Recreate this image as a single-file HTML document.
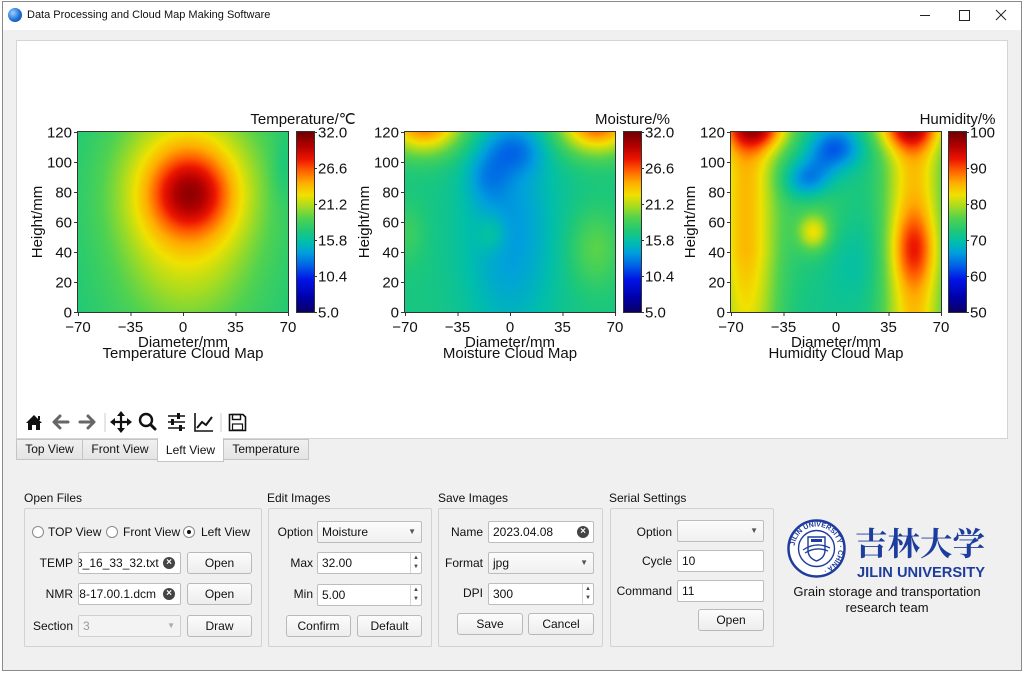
<!DOCTYPE html>
<html><head><meta charset="utf-8">
<style>
*{margin:0;padding:0;box-sizing:border-box}
body{width:1024px;height:673px;background:#fff;position:relative;overflow:hidden;font-family:"Liberation Sans","Noto Sans CJK SC",sans-serif;font-size:12px;color:#111}
.a{position:absolute}
.gb{position:absolute;border:1px solid #d2d2d2;border-radius:2px;top:508px;height:139px}
.t{position:absolute;white-space:nowrap;font-size:12px;line-height:14px}
.r{text-align:right}
.inp{position:absolute;background:#fff;border:1px solid #bdbdbd;border-radius:2px;height:22px;line-height:20px;padding-left:4px;font-size:12px;overflow:hidden;white-space:nowrap}
.btn{position:absolute;background:linear-gradient(#fcfcfc,#ededed);border:1px solid #b9b9b9;border-radius:3px;height:22px;line-height:20px;text-align:center;font-size:12px}
.arr{position:absolute;right:5px;top:0;font-size:8px;color:#555;line-height:20px}
.spin{position:absolute;right:0;top:0;width:11px;height:20px;border-left:1px solid #d6d6d6;font-size:6px;color:#444;line-height:9px;text-align:center;padding-top:1px}
.clr{position:absolute;top:4px;width:12px;height:12px;border-radius:6px;background:#444;color:#fff;font-size:10px;line-height:12px;text-align:center;font-weight:bold}
.rad{position:absolute;width:12px;height:12px;border-radius:6px;border:1px solid #8a8a8a;background:#fff;top:526px}
.tab{position:absolute;top:439px;height:21px;background:linear-gradient(#f0f0f0,#e4e4e4);border:1px solid #c4c4c4;font-size:12px;line-height:19px;text-align:center}
canvas{position:absolute;background:#2cc487}
.cb{position:absolute;top:132px;height:180px;width:17px;background:linear-gradient(to top,rgb(10,0,100) 0%,rgb(0,0,170) 8%,rgb(0,20,230) 18%,rgb(0,100,230) 26%,rgb(0,160,220) 33%,rgb(0,190,170) 39%,rgb(30,200,120) 45%,rgb(80,210,80) 52%,rgb(170,220,30) 59%,rgb(240,225,0) 65%,rgb(255,170,0) 72%,rgb(255,90,0) 79%,rgb(235,20,0) 85%,rgb(180,0,0) 92%,rgb(110,0,0) 100%)}
</style></head><body>
<div class="a" style="left:2px;top:1px;width:1020px;height:670px;border:1px solid #8a8a8a;background:#f0f0f0"></div>
<div class="a" style="left:3px;top:2px;width:1018px;height:28px;background:#fff"></div>
<div class="a" style="left:8px;top:8px;width:14px;height:14px;border-radius:7px;background:radial-gradient(circle at 35% 35%,#9fd0ff,#1f6fd6 55%,#0b3f9a)"></div>
<div class="t" style="left:27px;top:8px;font-size:11px">Data Processing and Cloud Map Making Software</div>
<div class="a" style="left:16px;top:40px;width:992px;height:399px;background:#fff;border:1px solid #d4d4d4"></div>

<canvas id="c1" width="210" height="180" style="left:78px;top:132px;width:210px;height:180px"></canvas>
<canvas id="c2" width="210" height="180" style="left:405px;top:132px;width:210px;height:180px"></canvas>
<canvas id="c3" width="210" height="180" style="left:731px;top:132px;width:210px;height:180px"></canvas>
<div class="cb" style="left:297px"></div>
<div class="cb" style="left:624px"></div>
<div class="cb" style="left:949px"></div>

<div class="tab" style="left:16px;width:67px">Top View</div>
<div class="tab" style="left:82px;width:76px">Front View</div>
<div class="tab" style="left:223px;width:86px">Temperature</div>
<div class="tab" style="left:157px;width:67px;top:438px;height:24px;background:#fff;border-top:none;line-height:25px">Left View</div>

<div class="t" style="left:24px;top:491px">Open Files</div>
<div class="t" style="left:267px;top:491px">Edit Images</div>
<div class="t" style="left:438px;top:491px">Save Images</div>
<div class="t" style="left:609px;top:491px">Serial Settings</div>
<div class="gb" style="left:24px;width:238px"></div>
<div class="gb" style="left:268px;width:164px"></div>
<div class="gb" style="left:438px;width:165px"></div>
<div class="gb" style="left:610px;width:164px"></div>

<div class="rad" style="left:32px"></div>
<div class="t" style="left:48px;top:525px">TOP View</div>
<div class="rad" style="left:106px"></div>
<div class="t" style="left:123px;top:525px">Front View</div>
<div class="rad" style="left:183px"><div class="a" style="left:3px;top:3px;width:4px;height:4px;border-radius:2px;background:#111"></div></div>
<div class="t" style="left:201px;top:525px">Left View</div>

<div class="t r" style="left:30px;width:43px;top:556px">TEMP</div>
<div class="inp" style="left:78px;top:552px;width:103px;padding-left:0"><span style="margin-left:-3px">8_16_33_32.txt</span><div class="clr" style="left:84px">×</div></div>
<div class="btn" style="left:187px;top:552px;width:65px">Open</div>
<div class="t r" style="left:30px;width:43px;top:587px">NMR</div>
<div class="inp" style="left:78px;top:583px;width:103px;padding-left:0"><span style="margin-left:-2px">'8-17.00.1.dcm</span><div class="clr" style="left:84px">×</div></div>
<div class="btn" style="left:187px;top:583px;width:65px">Open</div>
<div class="t r" style="left:30px;width:43px;top:619px">Section</div>
<div class="inp" style="left:78px;top:615px;width:103px;background:#f3f3f3;border-color:#d0d0d0;color:#9a9a9a">3<span class="arr" style="color:#aaa">▼</span></div>
<div class="btn" style="left:187px;top:615px;width:65px">Draw</div>

<div class="t r" style="left:268px;width:45px;top:525px">Option</div>
<div class="inp" style="left:317px;top:521px;width:105px;background:linear-gradient(#fcfcfc,#f0f0f0)">Moisture<span class="arr">▼</span></div>
<div class="t r" style="left:268px;width:45px;top:556px">Max</div>
<div class="inp" style="left:317px;top:552px;width:105px">32.00<div class="spin">▲<br>▼</div></div>
<div class="t r" style="left:268px;width:45px;top:587px">Min</div>
<div class="inp" style="left:317px;top:584px;width:105px">5.00<div class="spin">▲<br>▼</div></div>
<div class="btn" style="left:286px;top:615px;width:65px">Confirm</div>
<div class="btn" style="left:357px;top:615px;width:65px">Default</div>

<div class="t r" style="left:440px;width:43px;top:525px">Name</div>
<div class="inp" style="left:488px;top:521px;width:106px">2023.04.08<div class="clr" style="left:88px">×</div></div>
<div class="t r" style="left:440px;width:43px;top:556px">Format</div>
<div class="inp" style="left:488px;top:552px;width:106px;background:linear-gradient(#fcfcfc,#f0f0f0)">jpg<span class="arr">▼</span></div>
<div class="t r" style="left:440px;width:43px;top:586px">DPI</div>
<div class="inp" style="left:488px;top:583px;width:106px">300<div class="spin">▲<br>▼</div></div>
<div class="btn" style="left:457px;top:613px;width:66px">Save</div>
<div class="btn" style="left:528px;top:613px;width:66px">Cancel</div>

<div class="t r" style="left:612px;width:60px;top:525px">Option</div>
<div class="inp" style="left:677px;top:520px;width:87px;background:linear-gradient(#fcfcfc,#f0f0f0)"><span class="arr">▼</span></div>
<div class="t r" style="left:612px;width:60px;top:554px">Cycle</div>
<div class="inp" style="left:677px;top:550px;width:87px">10</div>
<div class="t r" style="left:612px;width:60px;top:584px">Command</div>
<div class="inp" style="left:677px;top:580px;width:87px">11</div>
<div class="btn" style="left:698px;top:609px;width:66px">Open</div>

<div class="t" style="left:787px;top:584px;width:200px;text-align:center;font-size:13px;line-height:16px">Grain storage and transportation</div>
<div class="t" style="left:787px;top:600px;width:200px;text-align:center;font-size:13px;line-height:16px">research team</div>

<svg class="a" style="left:0;top:0" width="1024" height="673" xmlns="http://www.w3.org/2000/svg">
<g font-family="Liberation Sans, sans-serif" font-size="15" fill="#111">
<g fill="none" stroke="#333" stroke-width="1">
<rect x="77.5" y="131.5" width="211" height="181"/><rect x="296.5" y="131.5" width="18" height="181"/>
<rect x="404.5" y="131.5" width="211" height="181"/><rect x="623.5" y="131.5" width="18" height="181"/>
<rect x="730.5" y="131.5" width="211" height="181"/><rect x="948.5" y="131.5" width="18" height="181"/>
</g>
<g id="ticks" stroke="#333" stroke-width="1"></g>
<g id="labels"></g>
</g>
<g stroke="#222" stroke-width="1" fill="none">
<line x1="920" y1="15.5" x2="930" y2="15.5"/>
<rect x="959.5" y="10.5" width="10" height="10"/>
<line x1="996" y1="10" x2="1006" y2="20"/><line x1="1006" y1="10" x2="996" y2="20"/>
</g>
<g>
<path d="M26 423 L34 415 L42 423 L40 423 L40 430 L36 430 L36 425 L32 425 L32 430 L28 430 L28 423 Z" fill="#111"/>
<rect x="38" y="416" width="2" height="4" fill="#111"/>
<g stroke="#666" stroke-width="3" fill="none" stroke-linecap="round" stroke-linejoin="round">
<path d="M68 422 H55 M60 416 L54 422 L60 428"/>
<path d="M80 422 H93 M88 416 L94 422 L88 428"/>
</g>
<line x1="105" y1="413" x2="105" y2="432" stroke="#ccc"/>
<g stroke="#111" stroke-width="2.2" fill="none">
<path d="M121 413 V431 M112 422 H130"/>
</g>
<g fill="#111">
<path d="M121 411 L117 416 L125 416 Z"/><path d="M121 433 L117 428 L125 428 Z"/>
<path d="M110 422 L115 418 L115 426 Z"/><path d="M132 422 L127 418 L127 426 Z"/>
</g>
<circle cx="146" cy="420" r="6" stroke="#111" stroke-width="2.4" fill="none"/>
<line x1="150.5" y1="424.5" x2="155" y2="429" stroke="#111" stroke-width="3" stroke-linecap="round"/>
<g stroke="#111" stroke-width="1.6">
<line x1="168" y1="416" x2="185" y2="416"/><line x1="168" y1="422" x2="185" y2="422"/><line x1="168" y1="428" x2="185" y2="428"/>
</g>
<g fill="#111"><rect x="177" y="413" width="3" height="6"/><rect x="171" y="419" width="3" height="6"/><rect x="179" y="425" width="3" height="6"/></g>
<path d="M195 413 V431 H213" stroke="#111" stroke-width="1.6" fill="none"/>
<path d="M197 428 L202 422 L206 425 L212 417" stroke="#111" stroke-width="2" fill="none"/>
<line x1="221" y1="413" x2="221" y2="432" stroke="#ccc"/>
<path d="M229.5 414.5 H243 L245.5 417 V430.5 H229.5 Z" stroke="#111" stroke-width="1.6" fill="none"/>
<rect x="232.5" y="414.5" width="8" height="5" stroke="#111" stroke-width="1.4" fill="none"/>
<rect x="232.5" y="424" width="10" height="6" stroke="#111" stroke-width="1.2" fill="none"/>
</g>
<g>
<defs><path id="sealp" d="M 794.5 548.5 A 22 22 0 1 1 838.5 548.5 A 22 22 0 1 1 794.5 548.5"/></defs>
<circle cx="816.5" cy="548.5" r="28" fill="#fff" stroke="#1f3c9c" stroke-width="2.5"/>
<circle cx="816.5" cy="548.5" r="18" fill="none" stroke="#1f3c9c" stroke-width="1.4"/>
<text font-family="Liberation Sans, sans-serif" font-size="7" font-weight="bold" fill="#1f3c9c"><textPath href="#sealp" startOffset="2%">JILIN UNIVERSITY · CHINA ·</textPath></text>
<path d="M808 537 H825 V550 Q825 558 816.5 561 Q808 558 808 550 Z" fill="none" stroke="#1f3c9c" stroke-width="1.4"/>
<path d="M803 550 Q816 541 830 548 M805 553 Q816 546 828 551" fill="none" stroke="#1f3c9c" stroke-width="1.3"/>
<rect x="811" y="539" width="11" height="3" fill="#1f3c9c"/>
<text x="855" y="555" font-family="Noto Serif CJK SC, serif" font-weight="bold" font-size="32" fill="#1d3d9e" textLength="130" lengthAdjust="spacingAndGlyphs">吉林大学</text>
<text x="857" y="577" font-family="Liberation Sans, sans-serif" font-weight="bold" font-size="15" fill="#1d3d9e" textLength="128" lengthAdjust="spacingAndGlyphs">JILIN UNIVERSITY</text>
</g>
</svg>

<script>
(function(){
var NS="http://www.w3.org/2000/svg";
var tk=document.getElementById("ticks"),lb=document.getElementById("labels");
function ln(x1,y1,x2,y2){var e=document.createElementNS(NS,"line");e.setAttribute("x1",x1);e.setAttribute("y1",y1);e.setAttribute("x2",x2);e.setAttribute("y2",y2);tk.appendChild(e);}
function tx(x,y,s,anc,tr){var e=document.createElementNS(NS,"text");e.setAttribute("x",x);e.setAttribute("y",y);if(anc)e.setAttribute("text-anchor",anc);if(tr)e.setAttribute("transform",tr);e.textContent=s;lb.appendChild(e);}
var plots=[{L:78,C:297,title:"Temperature/℃",tx:303,cb:["5.0","10.4","15.8","21.2","26.6","32.0"],name:"Temperature Cloud Map"},
{L:405,C:624,title:"Moisture/%",tx:632.5,cb:["5.0","10.4","15.8","21.2","26.6","32.0"],name:"Moisture Cloud Map"},
{L:731,C:949,title:"Humidity/%",tx:957.5,cb:["50","60","70","80","90","100"],name:"Humidity Cloud Map"}];
plots.forEach(function(p){
 var L=p.L;
 for(var v=0;v<=120;v+=20){var y=312-v*1.5;ln(L-4,y+0.5,L,y+0.5);tx(L-6,y+5.5,String(v),"end");}
 [-70,-35,0,35,70].forEach(function(v){var x=L+(v+70)*1.5;ln(x+0.5,312,x+0.5,316);tx(x,332,(v<0?"\u2212":"")+Math.abs(v),"middle");});
 for(var i=0;i<6;i++){var y=312-i*36;ln(p.C+17,y+0.5,p.C+20,y+0.5);tx(p.C+21,y+5.5,p.cb[i],"start");}
 tx(p.tx,124,p.title,"middle");
 tx(L+105,347,"Diameter/mm","middle");
 tx(L+105,358,p.name,"middle");
 tx(0,0,"Height/mm","middle","translate("+(L-36)+",222) rotate(-90)");
});
var stops=[[0,10,0,100],[0.08,0,0,170],[0.18,0,20,230],[0.26,0,100,230],[0.33,0,160,220],[0.39,0,190,170],[0.45,30,200,120],[0.52,80,210,80],[0.59,170,220,30],[0.65,240,225,0],[0.72,255,170,0],[0.79,255,90,0],[0.85,235,20,0],[0.92,180,0,0],[1,110,0,0]];
function cmap(t){t=Math.max(0,Math.min(1,t));for(var i=1;i<stops.length;i++){if(t<=stops[i][0]){var a=stops[i-1],b=stops[i],f=(t-a[0])/(b[0]-a[0]);return [a[1]+f*(b[1]-a[1]),a[2]+f*(b[2]-a[2]),a[3]+f*(b[3]-a[3])];}}return [110,0,0];}
function g(x,y,cx,cy,sx,sy){var dx=(x-cx)/sx,dy=(y-cy)/sy;return Math.exp(-0.5*(dx*dx+dy*dy));}
function gx(x,cx,sx){var d=(x-cx)/sx;return Math.exp(-0.5*d*d);}
function draw(id,f){var c=document.getElementById(id);if(!c.getContext)return;var w=c.width,h=c.height,ctx=c.getContext("2d"),im=ctx.createImageData(w,h);
 for(var j=0;j<h;j++)for(var i=0;i<w;i++){var x=-70+140*(i+0.5)/w,y=120-120*(j+0.5)/h,col=cmap(f(x,y)),k=(j*w+i)*4;im.data[k]=col[0];im.data[k+1]=col[1];im.data[k+2]=col[2];im.data[k+3]=255;}
 ctx.putImageData(im,0,0);}
draw("c1",function(x,y){return 0.44+0.22*g(x,y,5,79,18,18)+0.30*g(x,y,3,77,35,46)+0.04*g(x,y,0,0,40,25)-0.04*g(x,y,66,95,5,15);});
draw("c2",function(x,y){var t=0.44;t+=0.34*g(x,y,-57,126,18,14);t+=0.36*g(x,y,58,126,18,14);t-=0.12*g(x,y,0,55,22,55);t-=0.10*g(x,y,3,108,14,11);t-=0.07*g(x,y,-15,90,10,12);t+=0.05*g(x,y,-68,52,8,14);t+=0.09*g(x,y,57,42,12,18);t+=0.06*g(x,y,-12,52,7,9);return t;});
draw("c3",function(x,y){var t=0.43;t+=0.27*gx(x,-60,15)*(0.8+0.2*Math.min(1,y/40));t+=0.26*gx(x,52,14);t+=0.30*g(x,y,-52,124,15,11);t+=0.27*g(x,y,48,124,15,11);t+=0.16*g(x,y,52,42,10,17);t-=0.17*g(x,y,0,110,12,10);t-=0.15*g(x,y,-20,88,11,9);t-=0.06*g(x,y,-10,98,10,10);t+=0.17*g(x,y,-15,53,7,8);t+=0.06*g(x,y,-12,65,15,25);t-=0.04*g(x,y,10,35,15,20);return t;});
})();
</script>
</body></html>
